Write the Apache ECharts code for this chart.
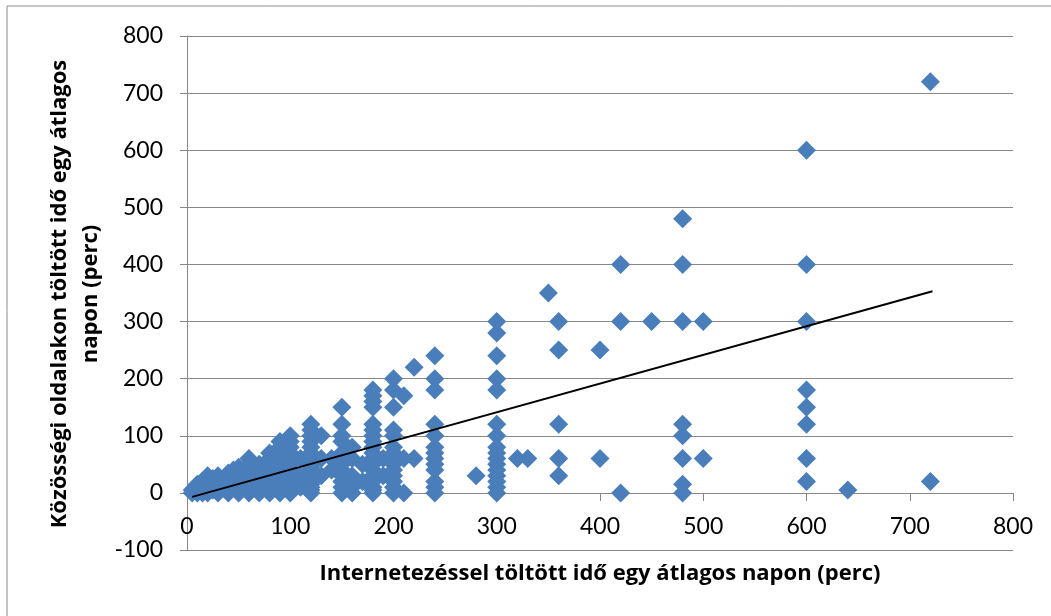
<!DOCTYPE html>
<html>
<head>
<meta charset="utf-8">
<script src="https://cdn.jsdelivr.net/npm/echarts@6/dist/echarts.min.js"></script>
<style>
  html, body { margin: 0; padding: 0; background: #fff; }
  #main { width: 1051px; height: 616px; }
</style>
</head>
<body>
<div id="main"></div>
<script>
// internetezéssel töltött idő (x) -> közösségi oldalakon töltött idő (y), oszloponként
var internetMinutes = [5, 10, 15, 20, 25, 30, 40, 45, 50, 60, 70, 75, 80, 90, 100, 110, 120, 130, 140, 150,
  160, 170, 180, 190, 200, 210, 220, 240, 280, 300, 320, 330, 350, 360, 400, 420, 450, 480, 500, 600, 640, 720];
var socialMinutes = [
  [0, 5],                                   // 5
  [0, 5, 10, 15],                           // 10
  [0, 5, 10, 15, 20],                       // 15
  [0, 5, 10, 15, 20, 30],                   // 20
  [5, 10, 20, 25],                          // 25
  [0, 5, 10, 15, 20, 30],                   // 30
  [0, 10, 20, 30, 35],                      // 40
  [10, 20, 30, 40],                         // 45
  [0, 5, 10, 20, 30, 40, 45],               // 50
  [0, 5, 10, 15, 20, 30, 40, 45, 50, 60],   // 60
  [0, 10, 20, 30, 40, 50],                  // 70
  [15, 30, 45],                             // 75
  [0, 10, 20, 30, 40, 50, 60, 70],          // 80
  [0, 10, 20, 30, 40, 45, 60, 80, 90],      // 90
  [0, 10, 20, 30, 40, 50, 60, 70, 80, 90, 100], // 100
  [10, 30, 60],                             // 110
  [0, 5, 10, 15, 20, 30, 40, 45, 50, 60, 70, 80, 90, 100, 110, 120], // 120
  [30, 60, 100],                            // 130
  [40, 60],                                 // 140
  [0, 10, 20, 30, 40, 50, 60, 70, 90, 100, 120, 150], // 150
  [0, 10, 30, 60, 80],                      // 160
  [20, 50],                                 // 170
  [0, 5, 10, 20, 30, 40, 50, 60, 70, 80, 90, 100, 110, 120, 150, 160, 170, 180], // 180
  [30, 60],                                 // 190
  [0, 10, 20, 30, 40, 50, 60, 70, 80, 100, 110, 150, 180, 200], // 200
  [0, 60, 170],                             // 210
  [60, 220],                                // 220
  [0, 10, 20, 40, 50, 60, 70, 80, 100, 120, 180, 200, 240], // 240
  [30],                                     // 280
  [0, 10, 20, 30, 40, 50, 60, 70, 80, 100, 120, 180, 200, 240, 280, 300], // 300
  [60],                                     // 320
  [60],                                     // 330
  [350],                                    // 350
  [30, 60, 120, 250, 300],                  // 360
  [60, 250],                                // 400
  [0, 300, 400],                            // 420
  [300],                                    // 450
  [0, 15, 60, 100, 120, 300, 400, 480],     // 480
  [60, 300],                                // 500
  [20, 60, 120, 150, 180, 300, 400, 600],   // 600
  [5],                                      // 640
  [20, 720]                                 // 720
];
// lineáris trendvonal végpontjai (leolvasva)
var trendX = [5, 722];
var trendY = [-7, 353];

var xTicks = [0, 800, 100];   // min, max, lépés
var yTicks = [-100, 800, 100];

var points = [];
internetMinutes.forEach(function (x, i) {
  socialMinutes[i].forEach(function (y) { points.push([x, y]); });
});
var trend = trendX.map(function (x, i) { return [x, trendY[i]]; });

var myChart = echarts.init(document.getElementById('main'));
var gridColor = '#878787';
var labelFont = { color: '#000', fontSize: 23, fontFamily: 'Lato' };

myChart.setOption({
  animation: false,
  backgroundColor: '#fff',
  grid: { left: 187, right: 38, top: 36, bottom: 66 },
  xAxis: {
    type: 'value',
    min: xTicks[0], max: xTicks[1], interval: xTicks[2],
    // a tengely a 0 szintjén fut (550 - 493 px)
    offset: -57,
    axisLine: { onZero: false, lineStyle: { color: gridColor, width: 1 } },
    axisTick: { show: true, length: 8, lineStyle: { color: gridColor } },
    axisLabel: Object.assign({ margin: 22 }, labelFont),
    splitLine: { show: false }
  },
  yAxis: {
    type: 'value',
    min: yTicks[0], max: yTicks[1], interval: yTicks[2],
    axisLine: { show: true, lineStyle: { color: gridColor, width: 1 } },
    axisTick: { show: true, length: 7, lineStyle: { color: gridColor } },
    axisLabel: Object.assign({ margin: 24 }, labelFont),
    splitLine: { show: true, lineStyle: { color: gridColor, width: 1 } }
  },
  graphic: [
    {
      type: 'rect', silent: true,
      shape: { x: 7, y: 6, width: 1100, height: 700 },
      style: { fill: 'none', stroke: '#8c8c8c', lineWidth: 1 }
    },
    {
      type: 'text', x: 600, y: 574,
      style: {
        text: 'Internetezéssel töltött idő egy átlagos napon (perc)',
        font: 'bold 22px "Open Sans"', fill: '#000', textAlign: 'center', textVerticalAlign: 'middle'
      }
    },
    {
      type: 'text', x: 75, y: 294, rotation: Math.PI / 2,
      style: {
        text: 'Közösségi oldalakon töltött idő egy átlagos\nnapon (perc)',
        font: 'bold 22px "Open Sans"', fill: '#000', textAlign: 'center', textVerticalAlign: 'middle',
        lineHeight: 31
      }
    }
  ],
  series: [
    {
      type: 'scatter',
      symbol: 'diamond',
      symbolSize: 19,
      itemStyle: { color: '#4a7ebb', opacity: 1 },
      data: points,
      z: 2
    },
    {
      type: 'line',
      data: trend,
      symbol: 'none',
      lineStyle: { color: '#000', width: 2 },
      z: 3
    }
  ]
});
</script>
</body>
</html>
